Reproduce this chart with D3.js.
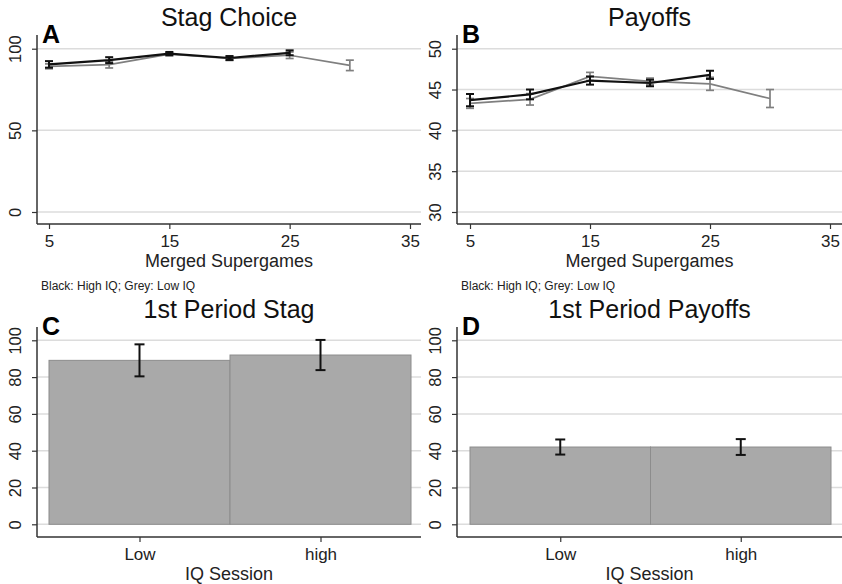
<!DOCTYPE html>
<html>
<head>
<meta charset="utf-8">
<script src="https://cdn.jsdelivr.net/npm/d3@7"></script>
<style>
  html, body { margin: 0; padding: 0; background: #fff; }
  svg { display: block; font-family: "Liberation Sans", Arial, sans-serif; }
</style>
</head>
<body>
<svg id="chart" width="842" height="584"></svg>
<script>
// Supergame blocks (x values) for the top panels
const games = [5, 10, 15, 20, 25, 30];
const xTicks = [5, 15, 25, 35];

// Panel A: share choosing stag (%), with half-width of the error bars
const stagHigh = [90.4, 93.0, 97.0, 94.3, 97.5];
const stagHighErr = [2.0, 1.8, 1.0, 1.2, 1.5];
const stagLow = [89.2, 90.2, 96.7, 94.0, 96.0, 89.8];
const stagLowErr = [1.5, 2.0, 1.0, 1.2, 2.0, 3.2];

// Panel B: payoffs
const payHigh = [43.7, 44.4, 46.1, 45.8, 46.8];
const payHighErr = [0.75, 0.6, 0.5, 0.4, 0.5];
const payLow = [43.3, 43.8, 46.6, 46.0, 45.7, 43.9];
const payLowErr = [0.6, 0.7, 0.5, 0.4, 0.8, 1.1];

// Panels C and D: first-period outcomes by IQ session
const sessions = ["Low", "high"];
const firstStag = [89.1, 92.0];
const firstStagErr = [8.7, 8.2];
const firstPay = [42.0, 42.0];
const firstPayErr = [4.1, 4.3];

const ticksA = [0, 50, 100];
const ticksB = [30, 35, 40, 45, 50];
const ticksCD = [0, 20, 40, 60, 80, 100];

const svg = d3.select("#chart");
const GRID = "#dcdcdc", AXIS = "#333", DARK = "#111", GREY = "#7f7f7f";

function frame(g, o) {
  // gridlines
  g.append("g").selectAll("line").data(o.yTicks).join("line")
    .attr("x1", o.axisX).attr("x2", o.right)
    .attr("y1", d => o.y(d)).attr("y2", d => o.y(d))
    .attr("stroke", GRID).attr("stroke-width", 1.5);

  // left axis with rotated tick labels
  const ya = d3.axisLeft(o.y).tickValues(o.yTicks).tickSize(5).tickSizeOuter(0);
  const yg = g.append("g").attr("transform", `translate(${o.axisX},0)`).call(ya);
  yg.select(".domain").remove();
  yg.selectAll(".tick line").attr("stroke", AXIS).attr("stroke-width", 1.2);
  yg.selectAll(".tick text")
    .attr("x", 0).attr("y", 0).attr("dy", null)
    .attr("text-anchor", "middle")
    .attr("transform", "translate(-16,0) rotate(-90)")
    .style("font-size", "16.5px").attr("fill", "#222");
  g.append("line").attr("x1", o.axisX).attr("x2", o.axisX)
    .attr("y1", o.axisTop).attr("y2", o.axisBottom)
    .attr("stroke", AXIS).attr("stroke-width", 1.5);

  // bottom axis line
  g.append("line").attr("x1", o.axisX).attr("x2", o.right)
    .attr("y1", o.axisBottom).attr("y2", o.axisBottom)
    .attr("stroke", AXIS).attr("stroke-width", 1.5);

  // panel title and letter
  const cx = (o.axisX + o.right) / 2;
  g.append("text").attr("x", cx).attr("y", o.axisTop - 9)
    .attr("text-anchor", "middle").style("font-size", "25px").attr("fill", "#111")
    .text(o.title);
  g.append("text").attr("x", o.axisX + 5).attr("y", o.axisTop + 8)
    .style("font-size", "25px").style("font-weight", "bold").attr("fill", "#000")
    .text(o.letter);
}

function bottomAxis(g, o, scale, ticks, fmt) {
  const xa = d3.axisBottom(scale).tickValues(ticks).tickSize(5).tickFormat(fmt);
  const xg = g.append("g").attr("transform", `translate(0,${o.axisBottom})`).call(xa);
  xg.select(".domain").remove();
  xg.selectAll(".tick line").attr("stroke", AXIS).attr("stroke-width", 1.2);
  xg.selectAll(".tick text").attr("y", 23).attr("dy", null)
    .style("font-size", "17px").attr("fill", "#222");
  g.append("text").attr("x", (o.axisX + o.right) / 2).attr("y", o.axisBottom + 43)
    .attr("text-anchor", "middle").style("font-size", "18px").attr("fill", "#222")
    .text(o.xTitle);
}

function errorBars(g, xs, ys, errs, x, y, color, width) {
  const d = ys.map((v, i) => ({ x: xs[i], v, e: errs[i] }));
  const eg = g.append("g").attr("stroke", color).attr("stroke-width", width);
  eg.selectAll("line.v").data(d).join("line").attr("class", "v")
    .attr("x1", p => x(p.x)).attr("x2", p => x(p.x))
    .attr("y1", p => y(p.v - p.e)).attr("y2", p => y(p.v + p.e));
  eg.selectAll("line.t").data(d).join("line").attr("class", "t")
    .attr("x1", p => x(p.x) - 4).attr("x2", p => x(p.x) + 4)
    .attr("y1", p => y(p.v + p.e)).attr("y2", p => y(p.v + p.e));
  eg.selectAll("line.b").data(d).join("line").attr("class", "b")
    .attr("x1", p => x(p.x) - 4).attr("x2", p => x(p.x) + 4)
    .attr("y1", p => y(p.v - p.e)).attr("y2", p => y(p.v - p.e));
}

function linePanel(o) {
  const g = svg.append("g");
  const x = d3.scaleLinear().domain([5, 35]).range(o.xRange);
  const y = d3.scaleLinear().domain(o.yDomain).range([212, 48.7]);
  o.y = y;
  frame(g, o);
  bottomAxis(g, o, x, xTicks, d3.format("d"));
  g.append("text").attr("x", o.axisX + 4).attr("y", 290)
    .style("font-size", "12px").attr("fill", "#222")
    .text("Black: High IQ; Grey: Low IQ");

  const line = d3.line().x(d => x(d[0])).y(d => y(d[1]));
  const low = o.low.map((v, i) => [games[i], v]);
  const high = o.high.map((v, i) => [games[i], v]);
  g.append("path").datum(low).attr("d", line)
    .attr("fill", "none").attr("stroke", GREY).attr("stroke-width", 1.7);
  errorBars(g, games, o.low, o.lowErr, x, y, GREY, 1.7);
  g.append("path").datum(high).attr("d", line)
    .attr("fill", "none").attr("stroke", DARK).attr("stroke-width", 2.2);
  errorBars(g, games, o.high, o.highErr, x, y, DARK, 2);
}

function barPanel(o) {
  const g = svg.append("g");
  const x = d3.scaleBand().domain(sessions).range(o.xRange).padding(0);
  const y = d3.scaleLinear().domain([0, 100]).range([524.3, 340.3]);
  o.y = y;
  frame(g, o);
  const d = sessions.map((s, i) => ({ s, v: o.values[i], e: o.errs[i] }));
  g.append("g").selectAll("rect").data(d).join("rect")
    .attr("x", p => x(p.s)).attr("width", x.bandwidth())
    .attr("y", p => y(p.v)).attr("height", p => y(0) - y(p.v))
    .attr("fill", "#a9a9a9").attr("stroke", "#8c8c8c").attr("stroke-width", 1);
  const cx = s => x(s) + x.bandwidth() / 2;
  const eg = g.append("g").attr("stroke", DARK).attr("stroke-width", 2);
  eg.selectAll("line.v").data(d).join("line").attr("class", "v")
    .attr("x1", p => cx(p.s)).attr("x2", p => cx(p.s))
    .attr("y1", p => y(p.v - p.e)).attr("y2", p => y(p.v + p.e));
  eg.selectAll("line.t").data(d).join("line").attr("class", "t")
    .attr("x1", p => cx(p.s) - 5).attr("x2", p => cx(p.s) + 5)
    .attr("y1", p => y(p.v + p.e)).attr("y2", p => y(p.v + p.e));
  eg.selectAll("line.b").data(d).join("line").attr("class", "b")
    .attr("x1", p => cx(p.s) - 5).attr("x2", p => cx(p.s) + 5)
    .attr("y1", p => y(p.v - p.e)).attr("y2", p => y(p.v - p.e));
  const xc = d3.scalePoint().domain(sessions).range([cx(sessions[0]), cx(sessions[1])]);
  bottomAxis(g, o, xc, sessions, s => s);
}

linePanel({ axisX: 37, right: 421, axisTop: 35, axisBottom: 224, xRange: [49, 410],
  yDomain: [0, 100], yTicks: ticksA, title: "Stag Choice", letter: "A",
  xTitle: "Merged Supergames",
  high: stagHigh, highErr: stagHighErr, low: stagLow, lowErr: stagLowErr });

linePanel({ axisX: 457, right: 842, axisTop: 35, axisBottom: 224, xRange: [470, 830],
  yDomain: [30, 50], yTicks: ticksB, title: "Payoffs", letter: "B",
  xTitle: "Merged Supergames",
  high: payHigh, highErr: payHighErr, low: payLow, lowErr: payLowErr });

barPanel({ axisX: 37, right: 421, axisTop: 327, axisBottom: 537, xRange: [49, 411],
  yTicks: ticksCD, title: "1st Period Stag", letter: "C", xTitle: "IQ Session",
  values: firstStag, errs: firstStagErr });

barPanel({ axisX: 457, right: 842, axisTop: 327, axisBottom: 537, xRange: [470, 831],
  yTicks: ticksCD, title: "1st Period Payoffs", letter: "D", xTitle: "IQ Session",
  values: firstPay, errs: firstPayErr });
</script>
</body>
</html>
